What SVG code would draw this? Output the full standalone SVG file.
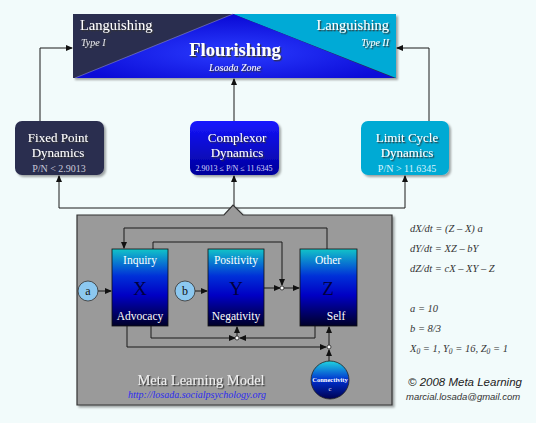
<svg xmlns="http://www.w3.org/2000/svg" width="536" height="423" viewBox="0 0 536 423">
<defs>
<style>
.ser{font-family:"Liberation Serif","Times New Roman",serif}
.wt{fill:#ffffff;filter:url(#tsh)}
.lbl{font-family:"Liberation Serif","Times New Roman",serif;fill:#ffffff;font-size:11.5px;text-anchor:middle}
.big{font-family:"Liberation Serif","Times New Roman",serif;fill:#000040;font-size:19px;text-anchor:middle}
.eq{font-family:"Liberation Serif","Times New Roman",serif;font-style:italic;fill:#333;font-size:10.5px}
.con{fill:none;stroke:#1a1a1a;stroke-width:1}
.jn{fill:#ffffff;stroke:#222;stroke-width:0.8}
</style>
<marker id="ah" markerWidth="7" markerHeight="7" refX="6" refY="3.5" orient="auto" markerUnits="userSpaceOnUse">
<path d="M0,0.5 L7,3.5 L0,6.5 Z" fill="#111"/>
</marker>
<filter id="tsh" x="-10%" y="-20%" width="130%" height="160%">
<feDropShadow dx="1.3" dy="1.3" stdDeviation="0.4" flood-color="#333" flood-opacity="0.95"/>
</filter>
<filter id="bsh" x="-10%" y="-10%" width="130%" height="130%">
<feDropShadow dx="2" dy="2" stdDeviation="1" flood-color="#000" flood-opacity="0.35"/>
</filter>
<radialGradient id="flg" cx="0.5" cy="0.6" r="0.55">
<stop offset="0" stop-color="#2a3cff"/>
<stop offset="1" stop-color="#0c0cd8"/>
</radialGradient>
<linearGradient id="cpg" x1="0" y1="0" x2="0" y2="1">
<stop offset="0" stop-color="#1616ff"/>
<stop offset="1" stop-color="#00009a"/>
</linearGradient>
<linearGradient id="bxg" x1="0" y1="0" x2="0" y2="1">
<stop offset="0" stop-color="#12c4c8"/>
<stop offset="0.35" stop-color="#0030d8"/>
<stop offset="0.6" stop-color="#0000c4"/>
<stop offset="1" stop-color="#000028"/>
</linearGradient>
<linearGradient id="cng" x1="0" y1="0" x2="0" y2="1">
<stop offset="0" stop-color="#20d4e0"/>
<stop offset="0.5" stop-color="#0030d0"/>
<stop offset="1" stop-color="#000050"/>
</linearGradient>
</defs>
<rect x="0" y="0" width="536" height="423" fill="#f2fbfb"/>

<g id="connectors">
<path class="con" d="M40,121 V48 H72" marker-end="url(#ah)"/>
<path class="con" d="M429,121 V48 H397" marker-end="url(#ah)"/>
<path class="con" d="M234,121 V79" marker-end="url(#ah)"/>
<path class="con" d="M59,208 H405"/>
<path class="con" d="M59,208 V176" marker-end="url(#ah)"/>
<path class="con" d="M234,208 V176" marker-end="url(#ah)"/>
<path class="con" d="M405,208 V176" marker-end="url(#ah)"/>
</g>

<g id="banner">
<rect x="73" y="14" width="323" height="64" fill="#2c2e50" filter="url(#bsh)"/>
<polygon points="233,14 396,14 396,78" fill="#00aad6"/>
<polygon points="233,14 75,78 394,78" fill="url(#flg)"/>
<line x1="233" y1="14" x2="75" y2="78" stroke="#8888cc" stroke-width="0.6"/>
<text class="ser wt" x="80" y="30" font-size="14.5">Languishing</text>
<text class="ser wt" x="81" y="46" font-size="10" font-style="italic" fill-opacity="0.85">Type I</text>
<text class="ser wt" x="389" y="30" font-size="14.5" text-anchor="end">Languishing</text>
<text class="ser wt" x="389" y="46" font-size="10" font-style="italic" text-anchor="end">Type II</text>
<text class="ser wt" x="235" y="56" font-size="18.5" font-weight="bold" text-anchor="middle">Flourishing</text>
<text class="ser wt" x="235" y="71" font-size="10" font-style="italic" text-anchor="middle">Losada Zone</text>
</g>

<g id="fixed-point">
<rect x="15" y="121" width="89" height="54" rx="7" fill="#2c2e50" filter="url(#bsh)"/>
<text class="ser wt" x="58" y="142" font-size="13" text-anchor="middle">Fixed Point</text>
<text class="ser wt" x="58" y="157" font-size="13" text-anchor="middle">Dynamics</text>
<text class="ser" x="59" y="172" font-size="10" text-anchor="middle" fill="#c8c8d8">P/N &lt; 2.9013</text>
</g>
<g id="complexor">
<rect x="190" y="121" width="89" height="54" rx="7" fill="url(#cpg)" filter="url(#bsh)"/>
<text class="ser wt" x="237" y="142" font-size="13" text-anchor="middle">Complexor</text>
<text class="ser wt" x="237" y="157" font-size="13" text-anchor="middle">Dynamics</text>
<text class="ser" x="234" y="171" font-size="8" text-anchor="middle" fill="#d8d8ff">2.9013 ≤ P/N ≤ 11.6345</text>
</g>
<g id="limit-cycle">
<rect x="361" y="121" width="88" height="54" rx="7" fill="#00aad4" filter="url(#bsh)"/>
<text class="ser wt" x="407" y="142" font-size="13" text-anchor="middle">Limit Cycle</text>
<text class="ser wt" x="407" y="157" font-size="13" text-anchor="middle">Dynamics</text>
<text class="ser" x="407" y="172" font-size="10" text-anchor="middle" fill="#d8f4ff">P/N &gt; 11.6345</text>
</g>

<g id="meta-learning-model">
<path d="M77,215 H224 L233,205 L243,215 H392 V405 H77 Z" fill="#9a9a9a" stroke="#333" stroke-width="1.2" filter="url(#bsh)"/>
<text class="ser" x="201" y="385" font-size="14.5" text-anchor="middle" fill="#eeeeee" filter="url(#tsh)">Meta Learning Model</text>
<text class="ser" x="197" y="398" font-size="10" font-style="italic" text-anchor="middle" fill="#2a2af0">http://losada.socialpsychology.org</text>
</g>

<g id="model-connectors">
<path class="con" d="M98,291 H111" marker-end="url(#ah)"/>
<path class="con" d="M195,291 H207" marker-end="url(#ah)"/>
<path class="con" d="M264,288 H280" marker-end="url(#ah)"/>
<path class="con" d="M284,288 H299" marker-end="url(#ah)"/>
<path class="con" d="M153,249 V242 H282 V285" marker-end="url(#ah)"/>
<path class="con" d="M327,249 V228 H124 V248" marker-end="url(#ah)"/>
<path class="con" d="M127,326 V347 H326" marker-end="url(#ah)"/>
<path class="con" d="M151,326 V338 H235" marker-end="url(#ah)"/>
<path class="con" d="M315,326 V338 H240" marker-end="url(#ah)"/>
<path class="con" d="M237,336 V327" marker-end="url(#ah)"/>
<path class="con" d="M329,345 V327" marker-end="url(#ah)"/>
<path class="con" d="M329,361 V350" marker-end="url(#ah)"/>
<circle class="jn" cx="282" cy="288" r="2"/>
<circle class="jn" cx="237" cy="338" r="2"/>
<circle class="jn" cx="329" cy="347" r="2"/>
</g>

<g id="node-x">
<rect x="112" y="249" width="56" height="77" fill="url(#bxg)" stroke="#111" stroke-width="0.8"/>
<text class="lbl" x="140" y="264">Inquiry</text>
<text class="big" x="140" y="295">X</text>
<text class="lbl" x="140" y="320">Advocacy</text>
</g>
<g id="node-y">
<rect x="208" y="249" width="56" height="77" fill="url(#bxg)" stroke="#111" stroke-width="0.8"/>
<text class="lbl" x="236" y="264">Positivity</text>
<text class="big" x="236" y="295">Y</text>
<text class="lbl" x="236" y="320">Negativity</text>
</g>
<g id="node-z">
<rect x="300" y="249" width="57" height="77" fill="url(#bxg)" stroke="#111" stroke-width="0.8"/>
<text class="lbl" x="328" y="264">Other</text>
<text class="big" x="328" y="295">Z</text>
<text class="lbl" x="336" y="320">Self</text>
</g>
<g id="node-a">
<circle cx="88" cy="291" r="10" fill="#8cc8f0" stroke="#333" stroke-width="0.8"/>
<text class="ser" x="88" y="295" font-size="12" text-anchor="middle" fill="#111">a</text>
</g>
<g id="node-b">
<circle cx="185" cy="291" r="10" fill="#8cc8f0" stroke="#333" stroke-width="0.8"/>
<text class="ser" x="185" y="295" font-size="12" text-anchor="middle" fill="#111">b</text>
</g>
<g id="node-connectivity">
<circle cx="330" cy="380" r="19" fill="url(#cng)" stroke="#222" stroke-width="0.8"/>
<text x="330" y="382" font-family="Liberation Serif, serif" font-size="6.5" font-weight="bold" fill="#fff" text-anchor="middle">Connectivity</text>
<text x="330" y="391" font-family="Liberation Serif, serif" font-size="6.5" fill="#fff" text-anchor="middle">c</text>
</g>

<g id="equations">
<text class="eq" x="410" y="232">dX/dt = (Z – X) a</text>
<text class="eq" x="410" y="252">dY/dt = XZ – bY</text>
<text class="eq" x="410" y="272">dZ/dt = cX – XY – Z</text>
<text class="eq" x="410" y="312">a = 10</text>
<text class="eq" x="410" y="332">b = 8/3</text>
<text class="eq" x="410" y="352">X<tspan font-size="7.5" dy="2">0</tspan><tspan dy="-2"> = 1, Y</tspan><tspan font-size="7.5" dy="2">0</tspan><tspan dy="-2"> = 16, Z</tspan><tspan font-size="7.5" dy="2">0</tspan><tspan dy="-2"> = 1</tspan></text>
<text x="408" y="386" font-family="Liberation Sans, Arial, sans-serif" font-size="11.5" font-style="italic" fill="#222">© 2008 Meta Learning</text>
<text x="406" y="400" font-family="Liberation Sans, Arial, sans-serif" font-size="9.5" font-style="italic" fill="#333">marcial.losada@gmail.com</text>
</g>
</svg>
